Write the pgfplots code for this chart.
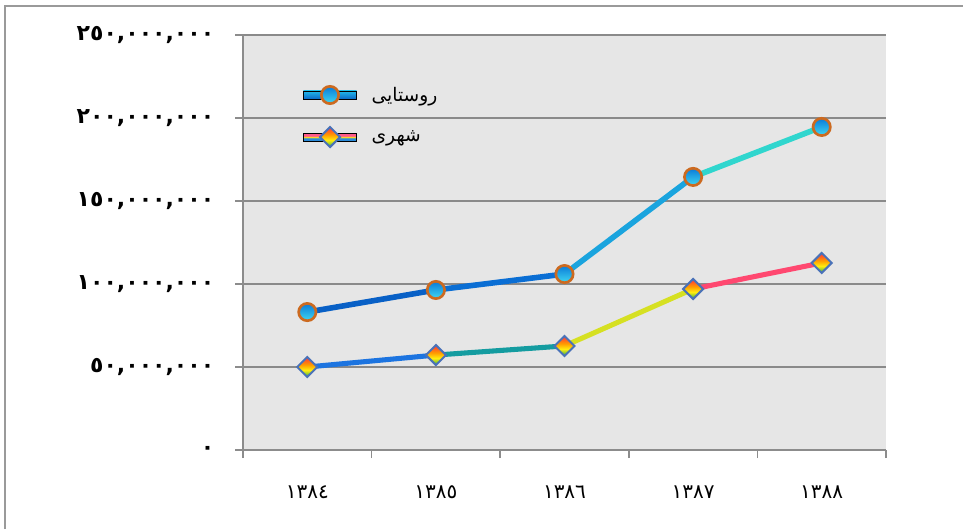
\documentclass[border=0pt]{standalone}
\usepackage{fontspec}
\usepackage{pgfplots}
\pgfplotsset{compat=1.18}
\setmainfont{DejaVu Sans}
\newfontfamily\arabicfont[Script=Arabic]{DejaVu Sans}
\TeXXeTstate=1

\definecolor{gridgray}{HTML}{8A8A8A}
\definecolor{axgray}{HTML}{8C8C8C}
\definecolor{bggray}{HTML}{E6E6E6}
\definecolor{framegray}{HTML}{9A9A9A}
\definecolor{ringorange}{HTML}{CC6A20}
\definecolor{diaborder}{HTML}{4A72B8}
\definecolor{balltop}{HTML}{0A7AD8}
\definecolor{ballbot}{HTML}{40D8F2}
\definecolor{rbred}{HTML}{FF3A3A}
\definecolor{rborange}{HTML}{FF9A00}
\definecolor{rbyellow}{HTML}{FFEE10}
\definecolor{rbgreen}{HTML}{3CB048}
\definecolor{rurtop}{HTML}{22B8E8}
\definecolor{rurbot}{HTML}{0A68C8}
\definecolor{urbtop}{HTML}{FF5A8A}
\definecolor{urbmid}{HTML}{F8E020}
\definecolor{urbbot}{HTML}{2A8AD8}

\pgfdeclareverticalshading{ruralball}{100bp}{color(0bp)=(ballbot); color(25bp)=(ballbot); color(75bp)=(balltop); color(100bp)=(balltop)}
\pgfdeclareverticalshading{rainbow}{100bp}{color(0bp)=(rbgreen); color(27bp)=(rbgreen); color(42bp)=(rbyellow); color(56bp)=(rborange); color(73bp)=(rbred); color(100bp)=(rbred)}
\pgfdeclareverticalshading{urbleg}{100bp}{color(0bp)=(urbbot); color(25bp)=(urbbot); color(42bp)=(urbbot); color(50bp)=(urbmid); color(58bp)=(urbtop); color(75bp)=(urbtop); color(100bp)=(urbtop)}

\pgfdeclareplotmark{ruralcircle}{%
  \pgfpathcircle{\pgfpointorigin}{\pgfplotmarksize}%
  \pgfshadepath{ruralball}{0}%
  \pgfpathcircle{\pgfpointorigin}{\pgfplotmarksize}%
  \pgfusepathqstroke
}
\pgfdeclareplotmark{rainbowdiamond}{%
  \pgfpathmoveto{\pgfqpoint{0pt}{\pgfplotmarksize}}%
  \pgfpathlineto{\pgfqpoint{\pgfplotmarksize}{0pt}}%
  \pgfpathlineto{\pgfqpoint{0pt}{-\pgfplotmarksize}}%
  \pgfpathlineto{\pgfqpoint{-\pgfplotmarksize}{0pt}}%
  \pgfpathclose
  \pgfshadepath{rainbow}{0}%
  \pgfpathmoveto{\pgfqpoint{0pt}{\pgfplotmarksize}}%
  \pgfpathlineto{\pgfqpoint{\pgfplotmarksize}{0pt}}%
  \pgfpathlineto{\pgfqpoint{0pt}{-\pgfplotmarksize}}%
  \pgfpathlineto{\pgfqpoint{-\pgfplotmarksize}{0pt}}%
  \pgfpathclose
  \pgfusepathqstroke
}

\begin{document}
\begin{tikzpicture}
\useasboundingbox (0,0) rectangle (722.25pt,396.75pt);
\begin{axis}[
  at={(182.25pt,59.25pt)}, anchor=south west,
  scale only axis, width=482.25pt, height=311.25pt,
  xmin=-0.5, xmax=4.5, ymin=0, ymax=250000000,
  axis x line*=bottom, axis y line*=left,
  axis line style={axgray, line width=1.5pt},
  axis background/.style={fill=bggray},
  xtick={-0.5,0.5,1.5,2.5,3.5,4.5},
  x tick label as interval,
  xticklabels={{١٣٨٤},{١٣٨٥},{١٣٨٦},{١٣٨٧},{١٣٨٨}},
  ytick={0,50000000,100000000,150000000,200000000,250000000},
  yticklabels={{٠},{٥٠,٠٠٠,٠٠٠},{١٠٠,٠٠٠,٠٠٠},{١٥٠,٠٠٠,٠٠٠},{٢٠٠,٠٠٠,٠٠٠},{٢٥٠,٠٠٠,٠٠٠}},
  tick align=outside, major tick length=6pt,
  tick style={axgray, line width=1.2pt},
  ymajorgrids, major grid style={gridgray, line width=1.1pt},
  yticklabel style={font=\arabicfont\bfseries\fontsize{16.5}{18}\selectfont, anchor=east, xshift=-12pt},
  xticklabel style={font=\arabicfont\fontsize{15}{17}\selectfont, yshift=-17pt},
  scaled y ticks=false,
  colormap={lines}{rgb255(0)=(8,96,198) rgb255(1)=(10,110,212) rgb255(2)=(26,164,222) rgb255(3)=(48,214,206) rgb255(4)=(28,116,224) rgb255(5)=(20,156,160) rgb255(6)=(214,224,34) rgb255(7)=(255,72,112)},
  point meta min=0, point meta max=7,
  legend style={at={(rel axis cs:0.093,0.882)}, anchor=north west, draw=none, fill=none, inner sep=0pt,
    cells={anchor=west}, row sep=16pt, column sep=9pt, font=\arabicfont\fontsize{14}{16}\selectfont},
  legend cell align=left,
  clip=false,
]
% rural line (segment colours by explicit meta, flat corner)
\addplot[mesh, shader=flat corner, point meta=explicit, line width=4.2pt, line cap=round, forget plot]
  coordinates {(0,83100000) [0] (1,96400000) [1] (2,106000000) [2] (3,164500000) [3] (4,194600000) [3]};
% urban line
\addplot[mesh, shader=flat corner, point meta=explicit, line width=3.8pt, line cap=round, forget plot]
  coordinates {(0,50000000) [4] (1,57200000) [5] (2,62700000) [6] (3,97000000) [7] (4,112700000) [7]};
% markers
\addplot[only marks, mark=ruralcircle, mark size=6.5pt, draw=ringorange, line width=2pt, forget plot]
  coordinates {(0,83100000) (1,96400000) (2,106000000) (3,164500000) (4,194600000)};
\addplot[only marks, mark=rainbowdiamond, mark size=7.5pt, draw=diaborder, line width=1.5pt, forget plot]
  coordinates {(0,50000000) (1,57200000) (2,62700000) (3,97000000) (4,112700000)};

\addlegendimage{legend image code/.code={%
  \shade[top color=rurtop, bottom color=rurbot] (0pt,-3pt) rectangle (40pt,3pt);
  \draw[draw=ringorange, line width=2pt, mark=ruralcircle, mark size=6.5pt] plot coordinates {(20pt,0pt)};
}}
\addlegendentry{\beginR روستایی\endR}
\addlegendimage{legend image code/.code={%
  \shade[shading=urbleg] (0pt,-3pt) rectangle (40pt,3pt);
  \draw[draw=diaborder, line width=1.5pt, mark=rainbowdiamond, mark size=7.5pt] plot coordinates {(20pt,0pt)};
}}
\addlegendentry{\beginR شهری\endR}
\end{axis}
\draw[framegray, line width=1.5pt] (3.75pt,0pt) -- (3.75pt,392.25pt) -- (722.25pt,392.25pt);
\end{tikzpicture}
\end{document}
